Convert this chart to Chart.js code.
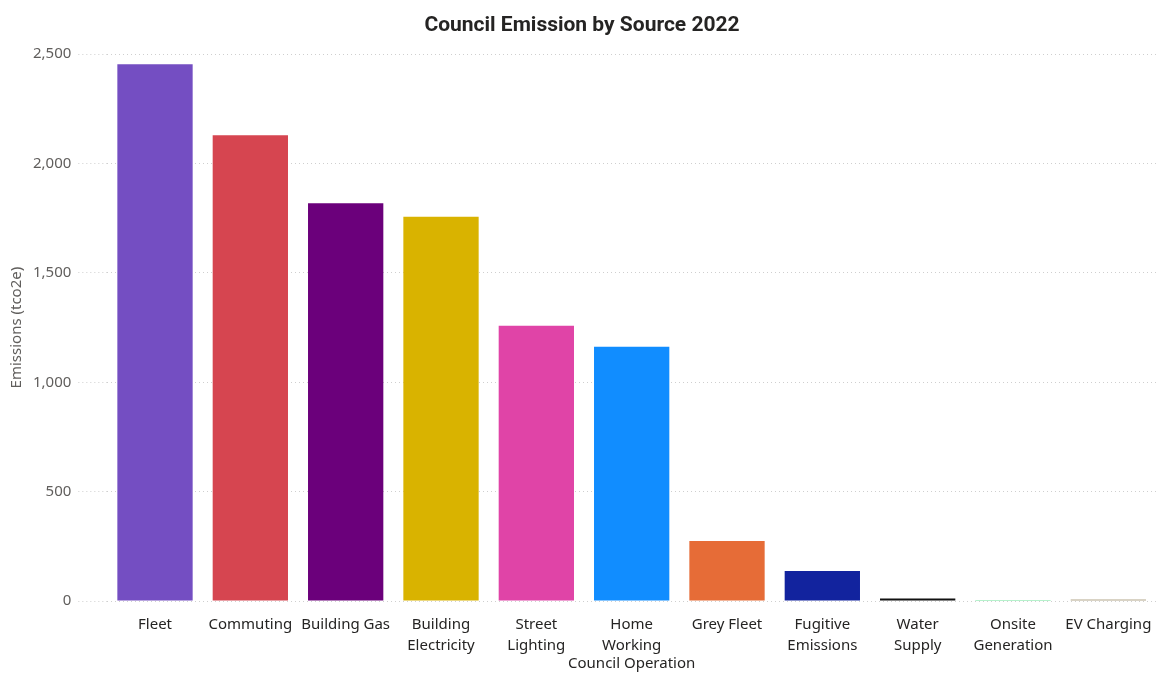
<!DOCTYPE html>
<html>
<head>
<meta charset="utf-8">
<script src="https://cdn.jsdelivr.net/npm/chart.js@4/dist/chart.umd.min.js"></script>
<style>
  html, body { margin: 0; padding: 0; background: #fff; }
  #wrap { width: 1176px; height: 675px; }
</style>
</head>
<body>
<div id="wrap"><canvas id="chart"></canvas></div>
<script>
// data
var sources = [
    'Fleet', 'Commuting', 'Building Gas', ['Building', 'Electricity'], ['Street', 'Lighting'],
    ['Home', 'Working'], 'Grey Fleet', ['Fugitive', 'Emissions'], ['Water', 'Supply'],
    ['Onsite', 'Generation'], 'EV Charging'
];
var emissions = [2454, 2130, 1819, 1757, 1258, 1162, 274, 137, 12, 5, 7];
var barColours = [
    '#744EC2', '#D64550', '#6B007B', '#D9B300', '#E044A7',
    '#118DFF', '#E66C37', '#12239E', '#111111', '#6FE39A', '#B3A78C'
];
var yTicks = [0, 500, 1000, 1500, 2000, 2500];

var gridColour = '#cfcfcf';

var chart = new Chart('chart', {
    type: 'bar',
    data: {
        labels: sources,
        datasets: [{
            data: emissions,
            backgroundColor: barColours,
            borderWidth: 0,
            categoryPercentage: 1,
            barPercentage: 0.79
        }]
    },
    options: {
        responsive: true,
        maintainAspectRatio: false,
        animation: false,
        layout: { padding: { left: 8, right: 20, top: 0, bottom: 2 } },
        plugins: {
            legend: { display: false },
            tooltip: { enabled: false },
            title: {
                display: true,
                text: 'Council Emission by Source 2022',
                color: '#252423',
                font: { family: 'Roboto', size: 21, weight: 'bold' },
                padding: { top: 13, bottom: 16 }
            }
        },
        scales: {
            x: {
                grid: { display: false },
                border: { display: false },
                ticks: {
                    color: '#252423',
                    font: { family: 'Noto Sans', size: 15, lineHeight: 1.4 },
                    maxRotation: 0,
                    autoSkip: false,
                    padding: 5
                },
                title: {
                    display: true,
                    text: 'Council Operation',
                    color: '#252423',
                    font: { family: 'Noto Sans', size: 15 },
                    padding: { top: -6, bottom: 0 }
                }
            },
            y: {
                min: 0,
                max: 2500,
                afterBuildTicks: function (axis) {
                    axis.ticks = yTicks.map(function (v) { return { value: v }; });
                },
                grid: {
                    color: gridColour,
                    drawTicks: true,
                    tickLength: 29,
                    tickColor: gridColour,
                    tickBorderDash: [1, 3]
                },
                border: { display: false, dash: [1, 3] },
                ticks: {
                    color: '#605E5C',
                    font: { family: 'Noto Sans', size: 15 },
                    padding: 7,
                    callback: function (v) { return v.toLocaleString('en-US'); }
                },
                title: {
                    display: true,
                    text: 'Emissions (tco2e)',
                    color: '#605E5C',
                    font: { family: 'Noto Sans', size: 15 },
                    padding: { top: 0, bottom: 0 }
                }
            }
        }
    }
});
</script>
</body>
</html>
